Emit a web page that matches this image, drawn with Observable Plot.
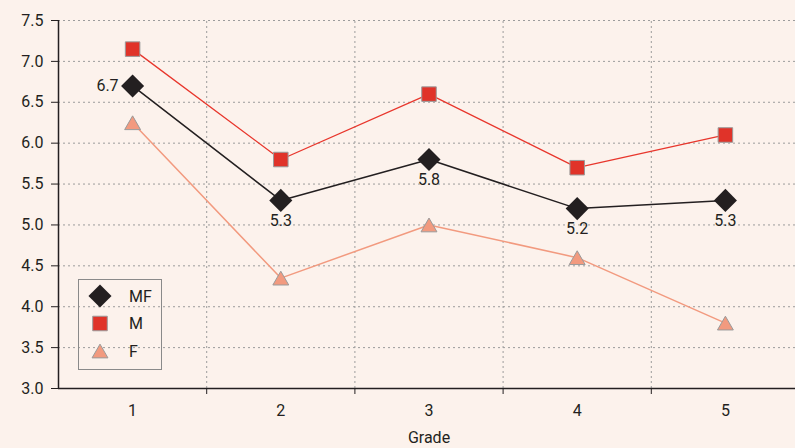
<!DOCTYPE html>
<html><head><meta charset="utf-8">
<script src="https://cdn.jsdelivr.net/npm/d3@7"></script>
<script src="https://cdn.jsdelivr.net/npm/@observablehq/plot@0.6"></script>
<style>
html,body{margin:0;padding:0;background:#fcf2ec;}
#wrap{position:relative;width:795px;height:448px;overflow:hidden;}
#legend{position:absolute;left:78px;top:279px;}
</style></head><body><div id="wrap"></div>
<script>
const grades = [1, 2, 3, 4, 5];
const mf = [6.7, 5.3, 5.8, 5.2, 5.3];
const m = [7.15, 5.8, 6.6, 5.7, 6.1];
const f = [6.25, 4.35, 5.0, 4.6, 3.8];
const mfLabels = ["6.7", "5.3", "5.8", "5.2", "5.3"];
const yTicks = [3.0, 3.5, 4.0, 4.5, 5.0, 5.5, 6.0, 6.5, 7.0, 7.5];
const xTickLabels = ["1", "2", "3", "4", "5"];
const seriesNames = ["MF", "M", "F"];
const xTitle = "Grade";

const font = "Roboto, 'Noto Sans', sans-serif";
const ink = "#231f20";
const gridColor = "#9c9c9c";
const styles = {
  MF: {symbol: "diamond2", r: 10.4, fill: ink, stroke: "none", line: ink, lw: 1.5, dy: 0},
  M: {symbol: "square", r: 8.2, fill: "#e03329", stroke: "#9a9a9a", line: "#e8362c", lw: 1.3, dy: 0},
  F: {symbol: "triangle", r: 5.9, fill: "#f29a7f", stroke: "#9a9a9a", line: "#f29a7f", lw: 1.5, dy: 2.3}
};
const rows = vals => grades.map((g, i) => ({grade: g, value: vals[i]}));
const series = {MF: rows(mf), M: rows(m), F: rows(f)};
const labelRows = grades.map((g, i) => ({grade: g, value: mf[i], label: mfLabels[i], i}));
const gridX = grades.slice(0, -1).map(g => g + 0.5);

const lineMarks = ["F", "M", "MF"].flatMap(k => {
  const s = styles[k];
  return [
    Plot.line(series[k], {x: "grade", y: "value", stroke: s.line, strokeWidth: s.lw}),
    Plot.dot(series[k], {x: "grade", y: "value", symbol: s.symbol, r: s.r, fill: s.fill, stroke: s.stroke, strokeWidth: 1, dy: s.dy})
  ];
});

const chart = Plot.plot({
  width: 795, height: 448,
  marginLeft: 58, marginRight: 0, marginTop: 20, marginBottom: 60,
  style: {background: "transparent", fontFamily: font, fontSize: "16px", color: ink},
  x: {domain: [0.5, 5.473], ticks: gridX, tickSize: 6, tickFormat: () => "", label: null},
  y: {domain: [3, 7.5], ticks: yTicks, tickSize: 7, tickPadding: 8, tickFormat: d => d.toFixed(1), label: null},
  marks: [
    Plot.ruleY(yTicks.filter(d => d > 3), {stroke: gridColor, strokeDasharray: "2,3", strokeWidth: 1}),
    Plot.ruleX(gridX, {y1: 3, y2: 7.5, stroke: gridColor, strokeDasharray: "2,3", strokeWidth: 1}),
    Plot.ruleX([0.5], {y1: 3, y2: 7.5, stroke: ink, strokeWidth: 1.5}),
    Plot.ruleY([3], {stroke: ink, strokeWidth: 1.5}),
    ...lineMarks,
    Plot.text(labelRows.filter(d => d.i === 0), {x: "grade", y: "value", text: "label", textAnchor: "end", dx: -14, fill: ink, fontSize: 16}),
    Plot.text(labelRows.filter(d => d.i > 0), {x: "grade", y: "value", text: "label", dy: 20, fill: ink, fontSize: 16}),
    Plot.text(grades.map((g, i) => ({grade: g, t: xTickLabels[i]})), {x: "grade", y: () => 3, text: "t", dy: 22, fill: ink, fontSize: 16}),
    Plot.text([xTitle], {x: () => 3, y: () => 3, dy: 49, fill: ink, fontSize: 16})
  ]
});
const wrap = document.getElementById("wrap");
wrap.appendChild(chart);

// legend
const lw = 83, lh = 90;
const leg = d3.select(wrap).append("svg").attr("id", "legend").attr("width", lw + 1).attr("height", lh + 1);
leg.append("rect").attr("x", 0.5).attr("y", 0.5).attr("width", lw).attr("height", lh)
  .attr("fill", "none").attr("stroke", "#8a8a8a").attr("stroke-width", 1);
const symMap = {diamond2: d3.symbolDiamond2, square: d3.symbolSquare, triangle: d3.symbolTriangle};
seriesNames.forEach((name, i) => {
  const s = styles[name];
  const cy = 17 + i * 27.5;
  leg.append("path")
    .attr("d", d3.symbol(symMap[s.symbol], Math.PI * s.r * s.r)())
    .attr("transform", `translate(22,${cy + s.dy})`)
    .attr("fill", s.fill).attr("stroke", s.stroke).attr("stroke-width", 1);
  leg.append("text").attr("x", 51).attr("y", cy).attr("dy", "0.35em")
    .attr("font-family", font).attr("font-size", 16).attr("fill", ink).text(name);
});
</script>
</body></html>
